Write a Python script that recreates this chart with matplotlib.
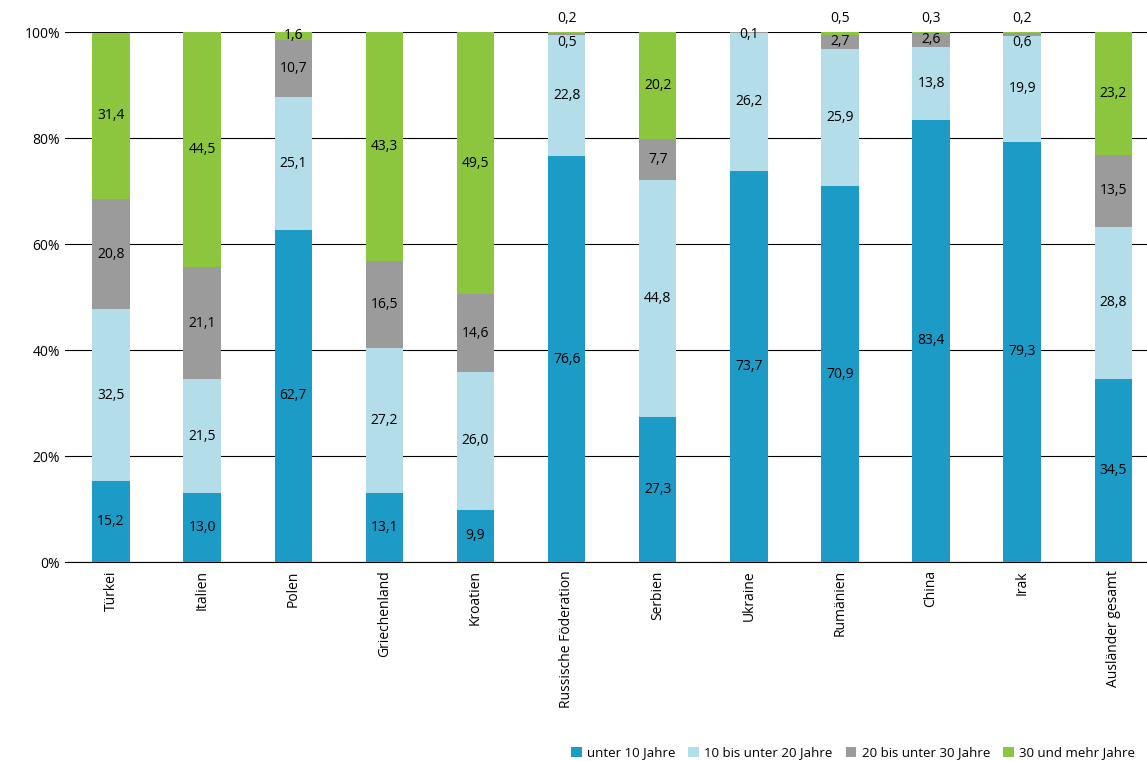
import matplotlib
matplotlib.use("Agg")
import matplotlib.pyplot as plt
import numpy as np

categories = ["Türkei","Italien","Polen","Griechenland","Kroatien","Russische Föderation",
              "Serbien","Ukraine","Rumänien","China","Irak","Ausländer gesamt"]
unter10 = [15.2,13.0,62.7,13.1,9.9,76.6,27.3,73.7,70.9,83.4,79.3,34.5]
b10_20 = [32.5,21.5,25.1,27.2,26.0,22.8,44.8,26.2,25.9,13.8,19.9,28.8]
b20_30 = [20.8,21.1,10.7,16.5,14.6,0.5,7.7,0.1,2.7,2.6,0.6,13.5]
ab30 = [31.4,44.5,1.6,43.3,49.5,0.2,20.2,0.0,0.5,0.3,0.2,23.2]
series = [unter10,b10_20,b20_30,ab30]
names = ["unter 10 Jahre","10 bis unter 20 Jahre","20 bis unter 30 Jahre","30 und mehr Jahre"]
colors = ["#1b9bc5","#b2dde9","#9b9b9b","#8cc63e"]

plt.rcParams['font.family'] = ['Open Sans','DejaVu Sans']
fig = plt.figure(figsize=(11.47,7.61), dpi=100)
ax = fig.add_axes([65/1147, 1-562/761, 1082/1147, 530/761])
x = np.arange(len(categories))
bottom = np.zeros(len(categories))
fmt = lambda v: f"{v:.1f}".replace(".", ",")
for si,(vals,c,n) in enumerate(zip(series,colors,names)):
    vals = np.array(vals)
    ax.bar(x, vals, 0.41, bottom=bottom, color=c, label=n, zorder=3)
    for i,v in enumerate(vals):
        if v <= 0: continue
        if si == 3 and v < 1:
            ax.text(x[i], 101.2, fmt(v), ha='center', va='bottom', fontsize=10, clip_on=False)
        else:
            y = bottom[i] + v/2
            if v < 1: y = 98.0 if ab30[i] > 0 else 99.5
            ax.text(x[i], y, fmt(v), ha='center', va='center', fontsize=10, zorder=4)
    bottom += vals

ax.set_xlim(-0.505, 11.37)
ax.set_ylim(0, 100)
ax.set_yticks(range(0,101,20))
ax.set_yticklabels([f"{t}%" for t in range(0,101,20)], fontsize=10)
ax.yaxis.grid(True, color='black', linewidth=0.8, zorder=0)
ax.set_xticks(x)
ax.set_xticklabels(categories, rotation=90, fontsize=10)
ax.tick_params(axis='both', length=0)
ax.tick_params(axis='x', pad=6)
for s in ['top','right','left']:
    ax.spines[s].set_visible(False)
ax.spines['bottom'].set_color('black')
ax.legend(loc='lower right', bbox_to_anchor=(1.0, -0.395), ncol=4, frameon=False,
          fontsize=9.5, handlelength=0.8, handleheight=0.8, handletextpad=0.4, columnspacing=1.0)
fig.savefig("out.png", dpi=100)
